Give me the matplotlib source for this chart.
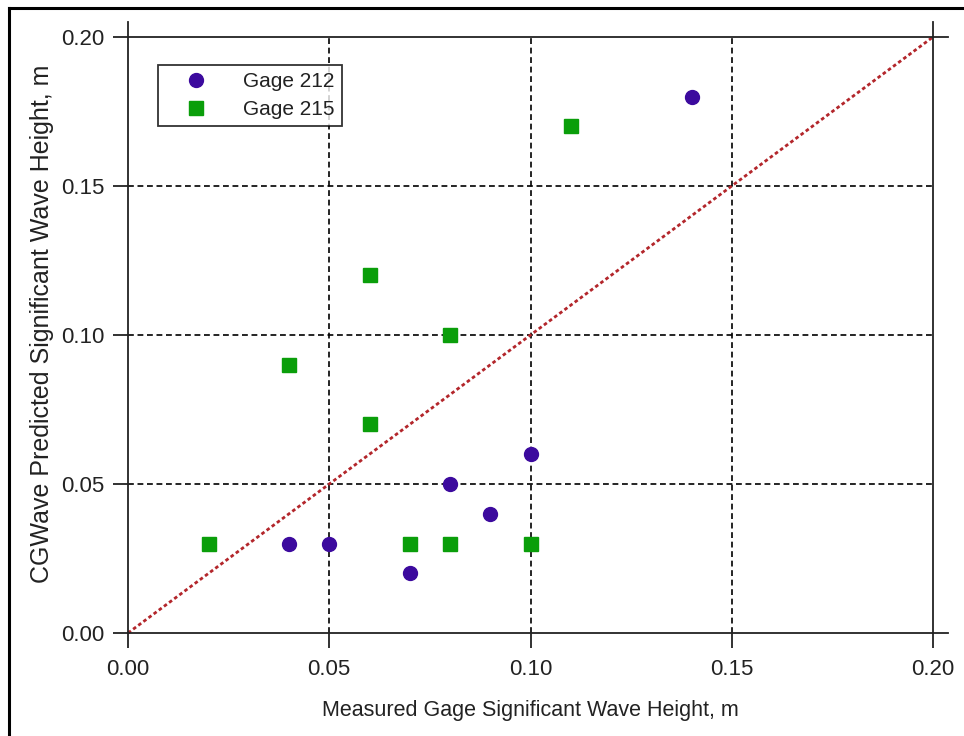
import matplotlib
matplotlib.use("Agg")
import matplotlib.pyplot as plt
from matplotlib.lines import Line2D

plt.rcParams['font.family'] = ['Liberation Sans', 'DejaVu Sans']

# Measured vs. predicted significant wave height (m)
gage212_measured = [0.04, 0.05, 0.07, 0.08, 0.09, 0.10, 0.14]
gage212_predicted = [0.03, 0.03, 0.02, 0.05, 0.04, 0.06, 0.18]
gage215_measured = [0.02, 0.04, 0.06, 0.06, 0.07, 0.08, 0.08, 0.10, 0.11]
gage215_predicted = [0.03, 0.09, 0.12, 0.07, 0.03, 0.10, 0.03, 0.03, 0.17]
tick_values = [0.00, 0.05, 0.10, 0.15, 0.20]
tick_labels = ["0.00", "0.05", "0.10", "0.15", "0.20"]

W, H = 964, 736
fig = plt.figure(figsize=(W / 100, H / 100), dpi=100)
ax = fig.add_axes([128 / W, (H - 633) / H, 805 / W, 596 / H])

ax.set_xlim(0, 0.2)
ax.set_ylim(0, 0.2)

# dashed interior grid
for v in tick_values[1:-1]:
    ax.axvline(v, color='black', lw=1.2, linestyle=(0, (3.5, 2.2)), zorder=1)
    ax.axhline(v, color='black', lw=1.2, linestyle=(0, (3.5, 2.2)), zorder=1)

for s in ax.spines.values():
    s.set_linewidth(1.3)
    s.set_color('#222222')

# spines extend a little past the plotting area at the corners
ext_x = 15 / 805
ext_y = 15 / 596
for xa in (0, 1):
    ax.add_line(Line2D([xa, xa], [1, 1 + ext_y], transform=ax.transAxes,
                       color='#222222', lw=1.3, clip_on=False))
for ya in (0, 1):
    ax.add_line(Line2D([1, 1 + ext_x], [ya, ya], transform=ax.transAxes,
                       color='#222222', lw=1.3, clip_on=False))

ax.set_xticks(tick_values, tick_labels)
ax.set_yticks(tick_values, tick_labels)
ax.tick_params(axis='both', direction='out', length=10.8, width=1.3,
               color='#222222', labelsize=16, labelcolor='#222222')
ax.tick_params(axis='x', pad=8)
ax.tick_params(axis='y', pad=6)

# 1:1 agreement line
ax.plot([0, 0.2], [0, 0.2], color='#b3262b', lw=2.0,
        linestyle=(0, (1.3, 1.0)), zorder=2, clip_on=False)

ax.plot(gage212_measured, gage212_predicted, linestyle='none', marker='o',
        markersize=10, color='#3c0a9e', label='Gage 212', zorder=4,
        clip_on=False)
ax.plot(gage215_measured, gage215_predicted, linestyle='none', marker='s',
        markersize=10, color='#0a9e0a', label='Gage 215', zorder=4,
        clip_on=False)

leg = ax.legend(loc='upper left', bbox_to_anchor=(30 / 805, (633 - 65) / 596),
                frameon=True, fancybox=False, shadow=False, fontsize=15,
                handlelength=2.9, handletextpad=0.85, borderpad=0.35,
                labelspacing=0.42, borderaxespad=0)
leg.get_frame().set_edgecolor('black')
leg.get_frame().set_linewidth(1.3)
for t in leg.get_texts():
    t.set_color('#222222')

ax.set_xlabel('Measured Gage Significant Wave Height, m', fontsize=15.5,
              color='#222222', labelpad=14)
ax.set_ylabel('CGWave Predicted Significant Wave Height, m', fontsize=18,
              color='#222222')
ax.yaxis.set_label_coords(-0.092, 0.518)

# page frame
fig.add_artist(Line2D([9 / W, 9 / W], [0, 1 - 8 / H], transform=fig.transFigure,
                      color='black', lw=2.2))
fig.add_artist(Line2D([9 / W, 1], [1 - 8 / H, 1 - 8 / H], transform=fig.transFigure,
                      color='black', lw=2.2))

fig.savefig('out.png', dpi=100, facecolor='white')
